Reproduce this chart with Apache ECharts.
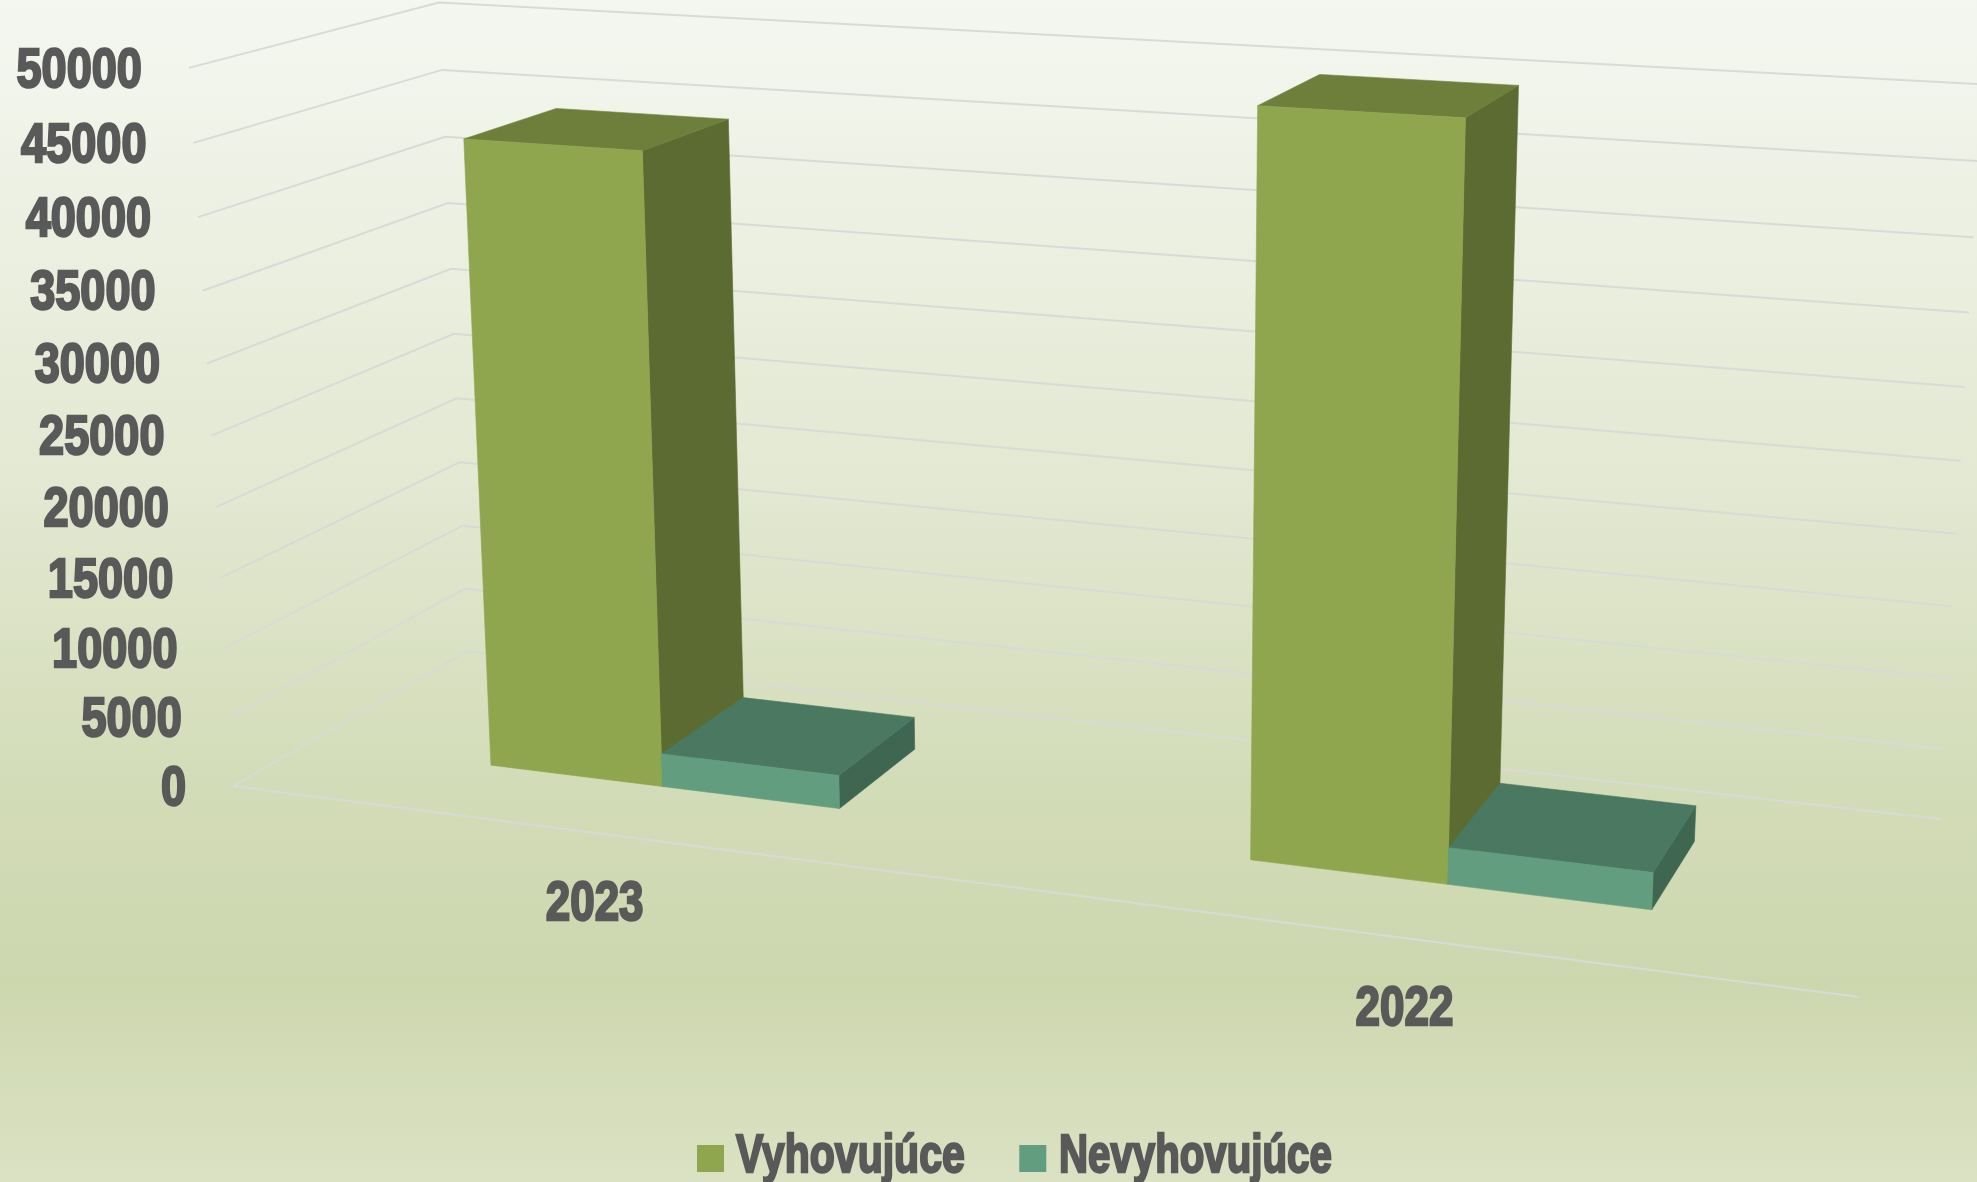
<!DOCTYPE html>
<html><head><meta charset="utf-8"><style>html,body{margin:0;padding:0;height:100%;background:#fff}#c{width:1977px;height:1182px}</style>
<script src="https://cdn.jsdelivr.net/npm/echarts@6/dist/echarts.min.js"></script></head><body><div id="c"></div>
<script>
// ---- data ----
const categories = ['2023', '2022'];
const vyhovujuce = [44500, 49900];
const nevyhovujuce = [2380, 2510];
const yTicks = [0, 5000, 10000, 15000, 20000, 25000, 30000, 35000, 40000, 45000, 50000];
const seriesNames = ['Vyhovujúce', 'Nevyhovujúce'];
const yMax = 50000;

// ---- look ----
const TEXT = '#595959', GRID = '#d9dad6';
const palette = [
  { front: '#8FA64F', top: '#6D7F3A', side: '#5C6B32' },
  { front: '#619D7E', top: '#4A7860', side: '#3F6650' }
];
const FONT = 'bold 55px "Liberation Sans"';
const BAR_FRAC = 0.238, BAR_SHIFT = -0.0003, DEPTH0 = 0.3, DEPTH1 = 0.7;
const GRID_SIZE = 1000;

// ---- perspective camera: maps the flat axis plane (u, v) plus a depth w to the page ----
const H = (x, y) => [x, y, 1];
function solve3(A, b) {
  const m = A.map((r, i) => [...r, b[i]]);
  for (let i = 0; i < 3; i++) {
    let p = i;
    for (let k = i + 1; k < 3; k++) if (Math.abs(m[k][i]) > Math.abs(m[p][i])) p = k;
    [m[i], m[p]] = [m[p], m[i]];
    for (let k = 0; k < 3; k++) {
      if (k === i) continue;
      const f = m[k][i] / m[i][i];
      for (let j = i; j < 4; j++) m[k][j] -= f * m[i][j];
    }
  }
  return m.map((r, i) => r[3] / r[i]);
}
const p0 = H(233, 786), pX = H(1859, 997), pZ = H(468, 651), pBR = H(1940, 819);
const s = solve3([[pX[0], pZ[0], -pBR[0]], [pX[1], pZ[1], -pBR[1]], [1, 1, -1]], p0);
const cU = pX.map((q, i) => s[0] * q - p0[i]), cW = pZ.map((q, i) => s[1] * q - p0[i]), c0 = p0;
// top corners of the box: front-left, back-left, back-right
const cornerFit = [[0, 0, 188, 68], [0, 1, 440, 3], [1, 1, 1982, 83.5]];
const ata = [[0, 0, 0], [0, 0, 0], [0, 0, 0]], atb = [0, 0, 0];
cornerFit.forEach(([u, w, x, y]) => {
  const b = [0, 1, 2].map(i => cU[i] * u + cW[i] * w + c0[i]);
  [[[1, 0, -x], x * b[2] - b[0]], [[0, 1, -y], y * b[2] - b[1]]].forEach(([row, rhs]) => {
    for (let i = 0; i < 3; i++) {
      atb[i] += row[i] * rhs;
      for (let j = 0; j < 3; j++) ata[i][j] += row[i] * row[j];
    }
  });
});
const cV = solve3(ata, atb);
function proj(u, v, w) {
  const h = [0, 1, 2].map(i => cU[i] * u + cV[i] * v + cW[i] * w + c0[i]);
  return [h[0] / h[2], h[1] / h[2]];
}
// axis plane pixel -> (u, v)
const flat = (api, cat, value) => {
  const c = api.coord([cat, value]);
  return [c[0] / GRID_SIZE, 1 - c[1] / GRID_SIZE];
};
const quad = (pts, fill) => ({
  type: 'polygon', shape: { points: pts }, silent: true,
  style: { fill, stroke: fill, lineWidth: 0.6 }
});

function barRender(idx) {
  return (params, api) => {
    const cat = api.value(0), value = api.value(1);
    const [uc0, v] = flat(api, cat, value);
    const uc = uc0 + BAR_SHIFT;
    const bw = api.size([1, 0])[0] / GRID_SIZE * BAR_FRAC;
    const u0 = idx === 0 ? uc - bw : uc, u1 = u0 + bw;
    const c = palette[idx];
    return {
      type: 'group',
      children: [
        quad([proj(u1, 0, DEPTH0), proj(u1, 0, DEPTH1), proj(u1, v, DEPTH1), proj(u1, v, DEPTH0)], c.side),
        quad([proj(u0, v, DEPTH0), proj(u1, v, DEPTH0), proj(u1, v, DEPTH1), proj(u0, v, DEPTH1)], c.top),
        quad([proj(u0, 0, DEPTH0), proj(u1, 0, DEPTH0), proj(u1, v, DEPTH0), proj(u0, v, DEPTH0)], c.front)
      ]
    };
  };
}
function wallRender(params, api) {
  const value = api.value(0);
  const v = flat(api, 0, value)[1];
  const kids = [{
    type: 'polyline', silent: true,
    shape: { points: [proj(0, v, 0), proj(0, v, 1), proj(1, v, 1)] },
    style: { fill: 'none', stroke: GRID, lineWidth: 2 }
  }];
  if (value === 0) kids.push({
    type: 'line', silent: true,
    shape: { x1: proj(0, 0, 0)[0], y1: proj(0, 0, 0)[1], x2: proj(1, 0, 0)[0], y2: proj(1, 0, 0)[1] },
    style: { stroke: GRID, lineWidth: 2 }
  });
  const a = proj(0, v, 0);
  kids.push({
    type: 'text', silent: true, x: a[0] - 47, y: a[1] + 3.5, scaleX: 0.82,
    style: { text: String(value), font: FONT, fill: TEXT, stroke: TEXT, lineWidth: 2.4, align: 'right', verticalAlign: 'middle' }
  });
  return { type: 'group', children: kids };
}
function catRender(params, api) {
  const cat = api.value(0);
  const [uc] = flat(api, cat, 0);
  const a = proj(uc, 0, 0);
  return {
    type: 'text', silent: true, x: a[0] - 2, y: a[1] + 72, scaleX: 0.8,
    style: { text: categories[cat], font: FONT, fill: TEXT, stroke: TEXT, lineWidth: 2.4, align: 'center', verticalAlign: 'middle' }
  };
}
const legendText = (text, x, sx) => ({
  type: 'text', x, y: 1157, scaleX: sx, silent: true,
  style: { text, font: 'bold 54px "Liberation Sans"', fill: TEXT, stroke: TEXT, lineWidth: 2.4, align: 'left', verticalAlign: 'middle' }
});

const chart = echarts.init(document.getElementById('c'));
chart.setOption({
  animation: false,
  backgroundColor: {
    type: 'linear', x: 0, y: 0, x2: 0, y2: 1,
    colorStops: [
      { offset: 0, color: '#F4F7F0' },
      { offset: 0.42, color: '#E2E8D1' },
      { offset: 0.66, color: '#D3DCB8' },
      { offset: 0.83, color: '#CDD7AE' },
      { offset: 1, color: '#DBE2C4' }
    ]
  },
  grid: { left: 0, top: 0, width: GRID_SIZE, height: GRID_SIZE },
  xAxis: { type: 'category', data: categories, show: false },
  yAxis: { type: 'value', min: 0, max: yMax, show: false },
  legend: {
    left: 692, top: 1140, orient: 'horizontal', itemWidth: 27, itemHeight: 27, itemGap: 290,
    icon: 'rect', data: seriesNames, formatter: () => ' ', selectedMode: false,
    textStyle: { fontSize: 1, color: 'transparent', padding: 0 }
  },
  graphic: [legendText(seriesNames[0], 736, 0.76), legendText(seriesNames[1], 1059, 0.745)],
  series: [
    { type: 'custom', name: 'walls', data: yTicks.map(t => [t]), encode: { y: 0 }, renderItem: wallRender, z: 1, tooltip: { show: false } },
    { type: 'custom', name: 'labels', data: categories.map((c, i) => [i]), encode: { x: 0 }, renderItem: catRender, z: 1 },
    { type: 'custom', name: seriesNames[0], data: vyhovujuce.map((v, i) => [i, v]), encode: { x: 0, y: 1 }, renderItem: barRender(0), itemStyle: { color: palette[0].front }, z: 2 },
    { type: 'custom', name: seriesNames[1], data: nevyhovujuce.map((v, i) => [i, v]), encode: { x: 0, y: 1 }, renderItem: barRender(1), itemStyle: { color: palette[1].front }, z: 3 }
  ]
});
</script></body></html>
